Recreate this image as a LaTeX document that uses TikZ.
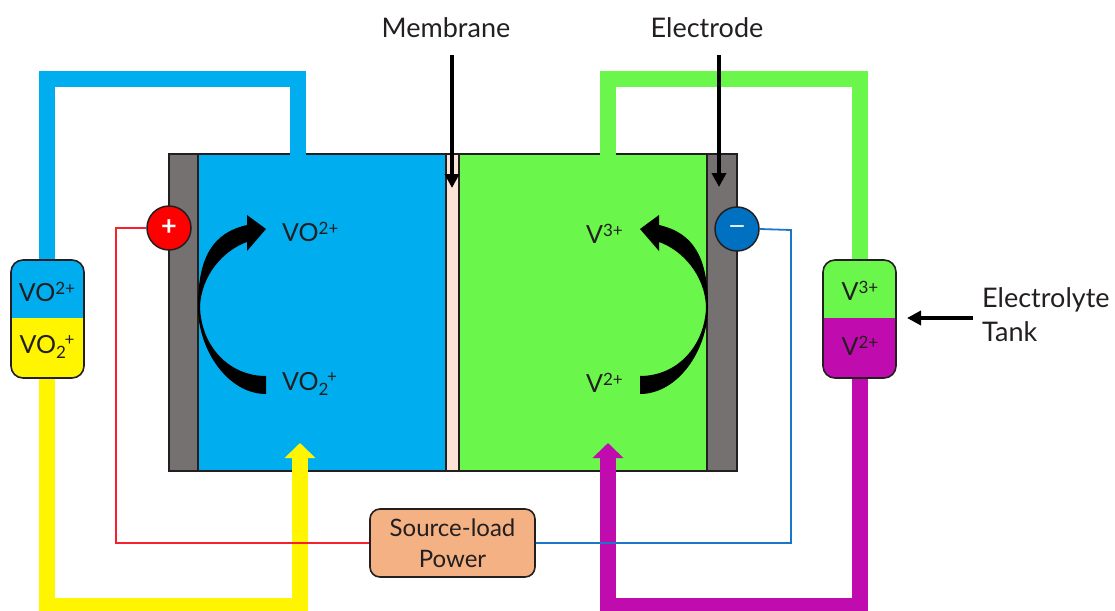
\documentclass[tikz,border=0pt]{standalone}
\usepackage{fontspec}
\setmainfont{Lato}
\usetikzlibrary{arrows.meta}
\definecolor{cblue}{HTML}{00AEEF}
\definecolor{cgreen}{HTML}{6AF64B}
\definecolor{cyellow}{HTML}{FFF500}
\definecolor{cmag}{HTML}{C00CAE}
\definecolor{cgray}{HTML}{767171}
\definecolor{cmem}{HTML}{FBE4D5}
\definecolor{cbox}{HTML}{F4B183}
\definecolor{cdark}{HTML}{231F20}
\definecolor{wred}{HTML}{F5222D}
\definecolor{wblue}{HTML}{1B75C9}
\definecolor{cminus}{HTML}{0070C0}
\newcommand{\txtsize}{\fontsize{25}{31}\selectfont}
\newcommand{\callsize}{\fontsize{27}{34}\selectfont}
\newcommand{\sups}[1]{\raisebox{7.5pt}{\fontsize{17}{17}\selectfont #1}}
\newcommand{\subsups}[2]{\raisebox{-5pt}{\rlap{\fontsize{17}{17}\selectfont #1}}\raisebox{8pt}{\kern8.5pt\fontsize{17}{17}\selectfont #2}}
\newcommand{\crescentpath}{(266,394) .. controls (228,394) and (198,350) .. (198,307) .. controls (198,258) and (212,233) .. (247,225) -- (247,215) -- (266,229) -- (247,251) -- (247,242) .. controls (224,250) and (201,275) .. (200,307) .. controls (201,345) and (228,376) .. (266,376) -- cycle}
\tikzset{
  x=1pt,y=-1pt,
  pipe/.style={line width=16pt,line join=miter},
  wire/.style={line width=1.8pt},
  pointer/.style={line width=4pt,black,-{Triangle[width=14pt,length=14pt]}},
  label/.style={inner sep=0pt,font=\txtsize,text=cdark},
  calllabel/.style={inner sep=0pt,font=\callsize,text=cdark},
  region/.style={draw=none,inner sep=0pt,outer sep=0pt},
  term/.style={circle,draw=cdark,line width=1.5pt,minimum size=44pt,inner sep=0pt,text=white,font=\fontsize{27}{27}\selectfont\bfseries},
  outline/.style={draw=cdark,line width=1.6pt},
  tankpart/.style={inner sep=0pt,minimum width=73pt,minimum height=58pt,font=\txtsize,text=cdark},
}
\begin{document}
\begin{tikzpicture}
\useasboundingbox (0,0) rectangle (1115,610);
\clip (0,0) rectangle (1115,610);
% cell
\node[region,fill=cgray,minimum width=29pt,minimum height=317pt] (elL) at (183.5,312.5) {};
\node[region,fill=cblue,minimum width=248pt,minimum height=317pt] (chL) at (322,312.5) {};
\node[region,fill=cmem,minimum width=13pt,minimum height=317pt] (mem) at (452.5,312.5) {};
\node[region,fill=cgreen,minimum width=248pt,minimum height=317pt] (chR) at (583,312.5) {};
\node[region,fill=cgray,minimum width=30pt,minimum height=317pt] (elR) at (722,312.5) {};
\draw[outline] (169,154) rectangle (737,471);
\draw[outline] (198,154) -- (198,471);
\draw[outline] (446,154) -- (446,471);
\draw[outline] (459,154) -- (459,471);
\draw[outline] (707,154) -- (707,471);
% tanks
\node[tankpart] (tLa) at (47,289) {};
\node[tankpart] (tLb) at (47,348) {};
\node[tankpart] (tRa) at (860,289) {};
\node[tankpart] (tRb) at (860,348) {};
% connection points on the cell
\coordinate (blueIn) at (298,156);
\coordinate (greenIn) at (608,156);
\coordinate (yellowIn) at (300,443);
\coordinate (magIn) at (608,443);
% pipes
\draw[pipe,cblue] (tLa.north) -- (47,79) -| (blueIn);
\draw[pipe,cgreen] (tRa.north) -- (860,79) -| (greenIn);
\draw[pipe,cyellow,-{Triangle[width=30pt,length=15pt]}] (tLb.south) -- (47,606) -| (yellowIn);
\draw[pipe,cmag,-{Triangle[width=30pt,length=15pt]}] (tRb.south) -- (860,606) -| (magIn);
% tank bodies
\begin{scope}
\clip (11,260) rectangle (84,318);
\fill[cblue,rounded corners=12pt] (11,260) rectangle (84,378);
\end{scope}
\begin{scope}
\clip (11,318) rectangle (84,378);
\fill[cyellow,rounded corners=12pt] (11,260) rectangle (84,378);
\end{scope}
\draw[outline,rounded corners=12pt] (11,260) rectangle (84,378);
\begin{scope}
\clip (823,260) rectangle (896,318);
\fill[cgreen,rounded corners=12pt] (823,260) rectangle (896,378);
\end{scope}
\begin{scope}
\clip (823,318) rectangle (896,378);
\fill[cmag,rounded corners=12pt] (823,260) rectangle (896,378);
\end{scope}
\draw[outline,rounded corners=12pt] (823,260) rectangle (896,378);
% tank labels
\node[label] (lLa) at (47,292) {VO\sups{2+}};
\node[label] (lLb) at (47,347) {VO\subsups{2}{+}};
\node[label] (lRa) at (860,291) {V\sups{3+}};
\node[label] (lRb) at (860,346) {V\sups{2+}};
% curved arrows
\fill[black] \crescentpath;
\begin{scope}[shift={(906,0)},xscale=-1]
\fill[black] \crescentpath;
\end{scope}
% cell labels
\node[label,anchor=west] (a1) at (282,232) {VO\sups{2+}};
\node[label,anchor=west] (a2) at (282,384) {VO\subsups{2}{+}};
\node[label,anchor=west] (a3) at (586,234) {V\sups{3+}};
\node[label,anchor=west] (a4) at (586,383) {V\sups{2+}};
% power box and terminals
\node[draw=cdark,line width=1.6pt,fill=cbox,rounded corners=10pt,minimum width=165pt,minimum height=68pt,inner sep=0pt,font=\fontsize{24}{31}\selectfont,text=cdark,align=center] (pow) at (452.5,543) {Source-load\\Power};
\node[term,fill=red] (plus) at (169,228) {+};
\node[term,fill=cminus,font=\fontsize{20}{20}\selectfont\bfseries] (minus) at (737,229) {—};
% wires
\draw[wire,wred] (plus.west) -- (116,228) |- (pow.west);
\draw[wire,wblue] (minus.east) -- (791,230) |- (pow.east);
% callouts
\node[calllabel] (mlab) at (446,28) {Membrane};
\node[calllabel] (elab) at (707,28) {Electrode};
\node[calllabel,anchor=west,align=left] (tlab) at (982,315) {Electrolyte\\Tank};
\coordinate (mtip) at (452,188);
\coordinate (etip) at (719,187);
\coordinate (mstart) at (452,55);
\coordinate (estart) at (719,55);
\coordinate (tstart) at (973,318);
\coordinate (ttip) at (907,318);
\draw[pointer] (mstart) -- (mtip);
\draw[pointer] (estart) -- (etip);
\draw[pointer] (tstart) -- (ttip);
\end{tikzpicture}
\end{document}
